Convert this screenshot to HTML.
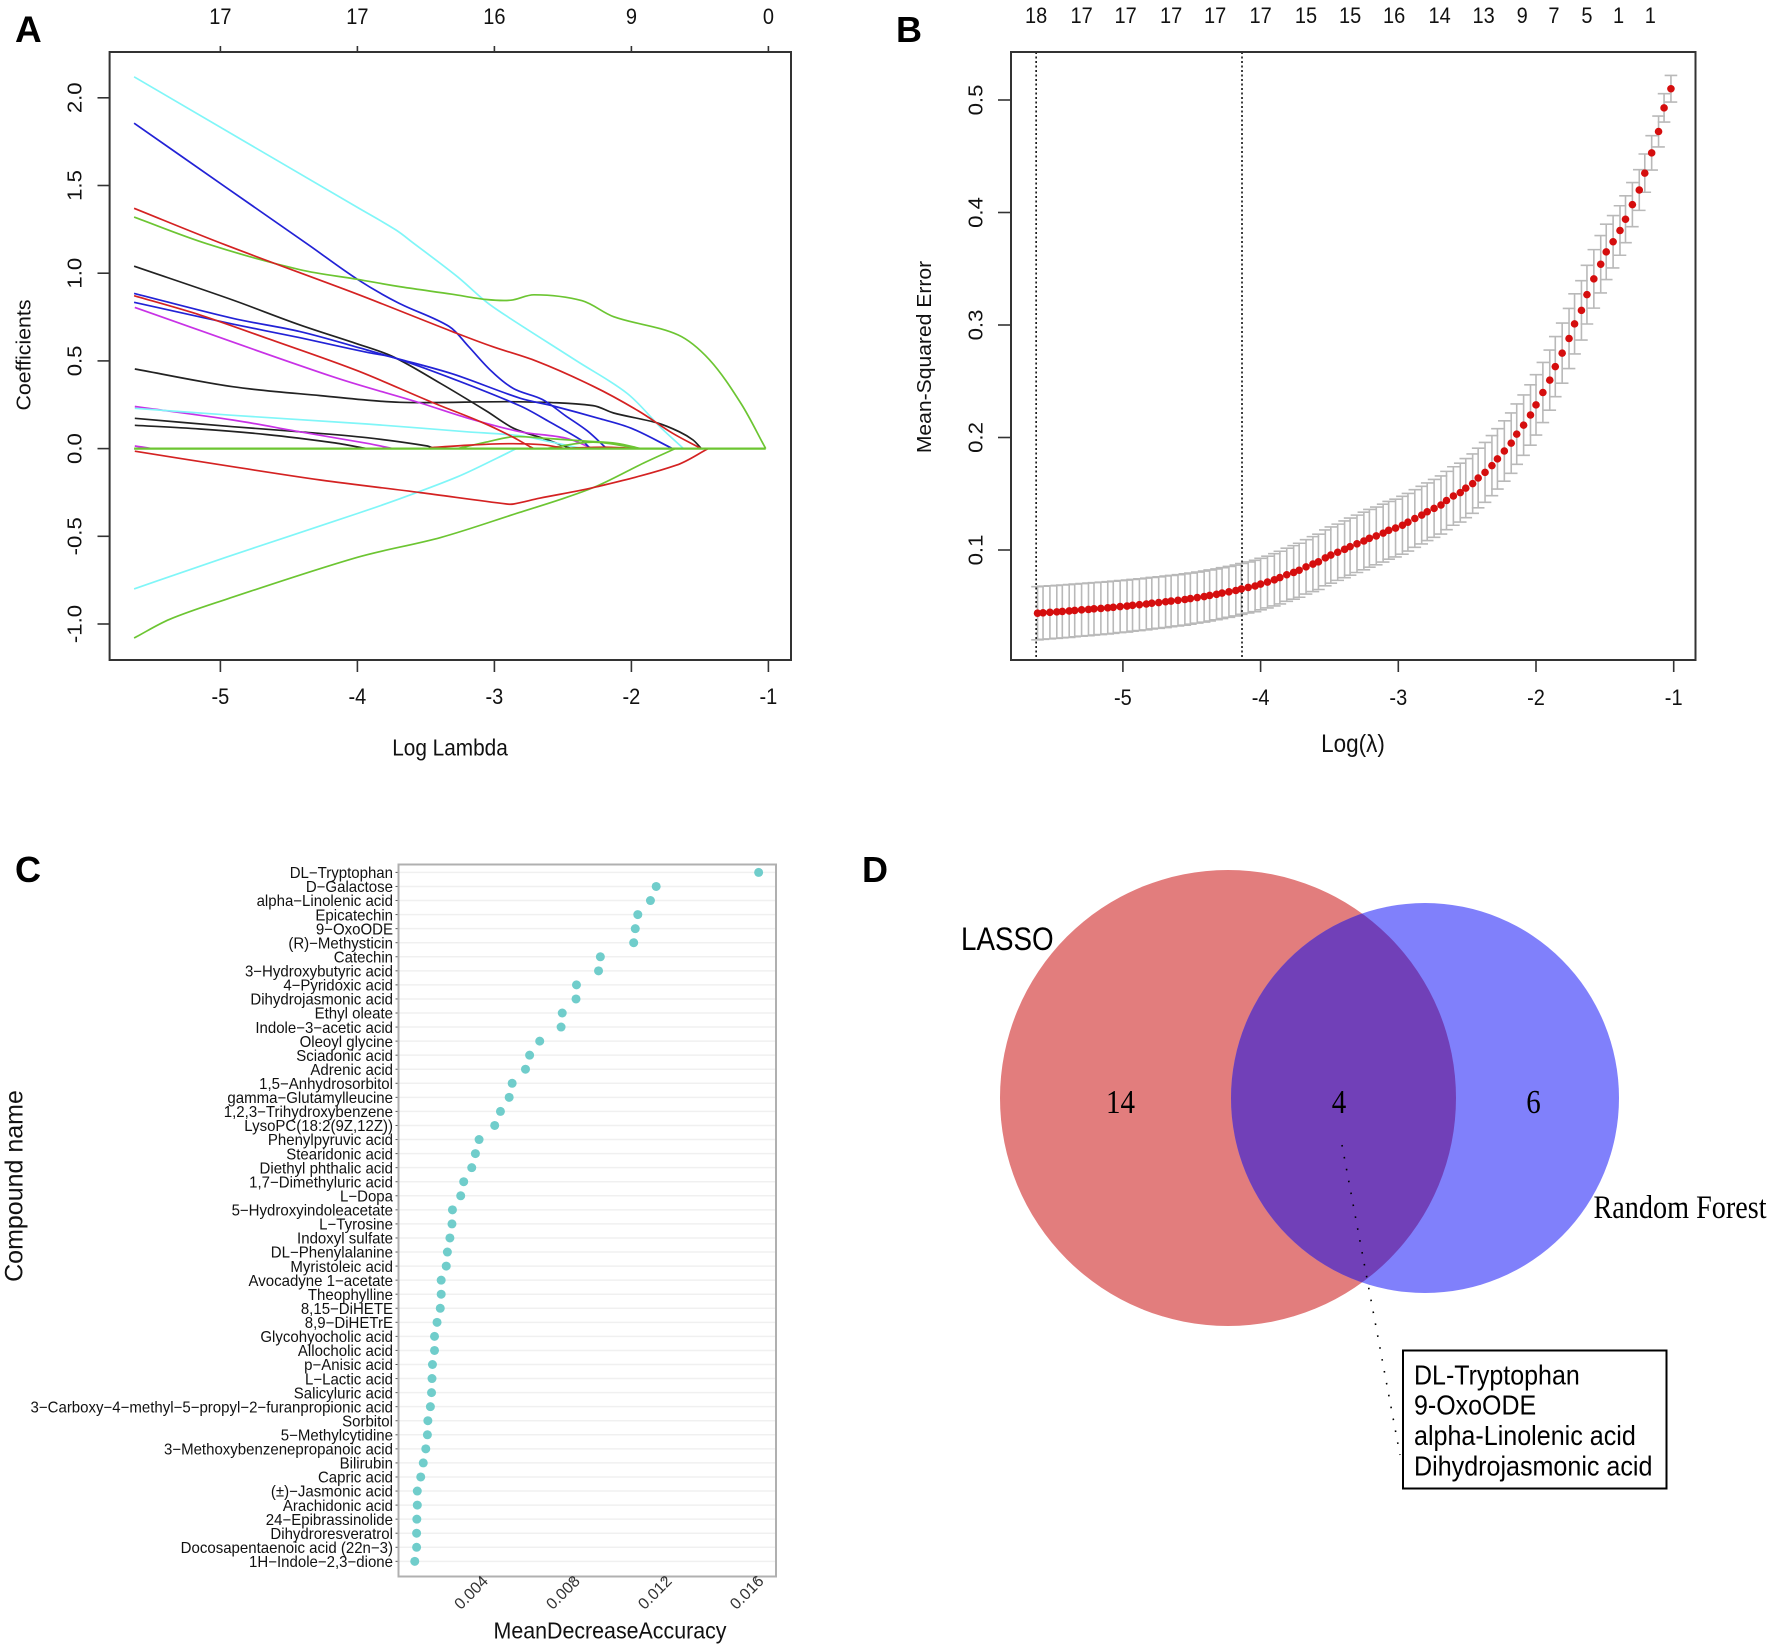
<!DOCTYPE html>
<html lang="en">
<head>
<meta charset="utf-8">
<title>LASSO and Random Forest feature selection panels</title>
<style>
html,body{margin:0;padding:0;background:#fff;}
svg{display:block;font-family:"Liberation Sans",Arial,sans-serif;}
</style>
</head>
<body>
<svg id="figure" xmlns="http://www.w3.org/2000/svg" width="1772" height="1645" viewBox="0 0 1772 1645">
  <rect x="0" y="0" width="1772" height="1645" fill="#ffffff"/>
  <text x="15" y="42" font-size="37" font-weight="bold" fill="#000">A</text>
  <text x="896" y="42" font-size="36" font-weight="bold" fill="#000">B</text>
  <text x="15" y="882" font-size="36" font-weight="bold" fill="#000">C</text>
  <text x="862" y="882" font-size="36" font-weight="bold" fill="#000">D</text>
  <g id="panelA"></g>
  <g id="panelB"></g>
  <g id="panelC"></g>
  <g id="panelD">
    <defs>
      <clipPath id="lassoClip"><circle cx="1228" cy="1098" r="228"/></clipPath>
    </defs>
    <circle cx="1228" cy="1098" r="228" fill="#e27d7d"/>
    <ellipse cx="1425" cy="1098" rx="194" ry="195" fill="#8080fb"/>
    <ellipse cx="1425" cy="1098" rx="194" ry="195" fill="#7140b8" clip-path="url(#lassoClip)"/>
    <text transform="translate(961 950) scale(1 1.15)" font-size="27.8" fill="#000">LASSO</text>
    <text transform="translate(1593.5 1218) scale(1 1.15)" font-size="28.2" font-family="'Liberation Serif',serif" fill="#000">Random Forest</text>
    <text transform="translate(1120.5 1113) scale(1 1.15)" font-size="29" text-anchor="middle" font-family="'Liberation Serif',serif" fill="#000">14</text>
    <text transform="translate(1339 1113) scale(1 1.15)" font-size="29" text-anchor="middle" font-family="'Liberation Serif',serif" fill="#000">4</text>
    <text transform="translate(1533.5 1113) scale(1 1.15)" font-size="29" text-anchor="middle" font-family="'Liberation Serif',serif" fill="#000">6</text>
    <line x1="1342" y1="1145" x2="1400" y2="1455" stroke="#000" stroke-width="1.6" stroke-dasharray="1.6 10.5"/>
    <rect x="1403" y="1350.5" width="263.5" height="138" fill="#ffffff" stroke="#000" stroke-width="2"/>
    <text transform="translate(1414 1384.5) scale(1 1.1)" font-size="25" fill="#000">DL-Tryptophan</text>
    <text transform="translate(1414 1414.5) scale(1 1.1)" font-size="25" fill="#000">9-OxoODE</text>
    <text transform="translate(1414 1445) scale(1 1.1)" font-size="25.1" fill="#000">alpha-Linolenic acid</text>
    <text transform="translate(1414 1475.5) scale(1 1.1)" font-size="25.1" fill="#000">Dihydrojasmonic acid</text>
  </g>
</svg>
<script>
/* ---------- Panel A data: [log lambda, coefficient] ---------- */
const aBottomTicks = [-5,-4,-3,-2,-1];
const aLeftTicks = [-1,-0.5,0,0.5,1,1.5,2];
const aTopLabels = ["17","17","16","9","0"];
const cyanTop = [[-5.63,2.12],[-4,1.375],[-3.72,1.247],[-3.6,1.177],[-3.27,0.98],[-3.06,0.837],[-2.88,0.74],[-2.4,0.5],[-2.03,0.314],[-1.78,0.116],[-1.62,0]];
const blueTop = [[-5.63,1.855],[-4.96,1.49],[-4.36,1.163],[-4,0.965],[-3.7,0.83],[-3.33,0.696],[-3.19,0.583],[-3.02,0.44],[-2.86,0.342],[-2.65,0.28],[-2.48,0.187],[-2.32,0.1],[-2.18,0]];
const redTop = [[-5.63,1.37],[-4.96,1.16],[-4,0.88],[-3.31,0.668],[-3.02,0.583],[-2.69,0.498],[-2.28,0.356],[-1.95,0.215],[-1.7,0.088],[-1.49,0]];
const greenTop = [[-5.63,1.32],[-5.1,1.168],[-4.42,1.02],[-4,0.965],[-3.68,0.922],[-3.31,0.88],[-3.06,0.85],[-2.88,0.846],[-2.71,0.877],[-2.36,0.843],[-2.13,0.752],[-1.66,0.648],[-1.43,0.506],[-1.2,0.257],[-1.02,0]];
const blackUpper = [[-5.63,1.04],[-4.91,0.847],[-4.42,0.705],[-4,0.597],[-3.74,0.524],[-3.39,0.37],[-3.06,0.215],[-2.86,0.116],[-2.65,0.06],[-2.44,0]];
const blueMidA = [[-5.63,0.885],[-4.91,0.743],[-4.42,0.667],[-3.93,0.562],[-3.74,0.52],[-3.31,0.427],[-2.81,0.287],[-2.57,0.243],[-2.24,0.173],[-2,0.116],[-1.7,0]];
const blueMidB = [[-5.63,0.834],[-4.91,0.71],[-4.42,0.632],[-3.93,0.549],[-3.74,0.52],[-3.31,0.4],[-2.81,0.243],[-2.61,0.158],[-2.36,0.045],[-2.3,0]];
const redMid = [[-5.63,0.872],[-5.15,0.762],[-4.66,0.629],[-4,0.444],[-3.45,0.262],[-3.1,0.153],[-2.87,0.068],[-2.74,0.011],[-2.71,0]];
const magentaUpper = [[-5.625,0.805],[-4.18,0.41],[-3.54,0.26],[-3.2,0.175],[-2.81,0.096],[-2.48,0.06],[-2.28,0]];
const blackFlat = [[-5.625,0.454],[-4.91,0.353],[-4.27,0.302],[-3.69,0.264],[-2.81,0.267],[-2.28,0.245],[-2.13,0.203],[-1.81,0.146],[-1.65,0.096],[-1.55,0.049],[-1.49,0]];
const cyanFlat = [[-5.625,0.23],[-4.91,0.19],[-3.93,0.14],[-3.2,0.096],[-2.81,0.073],[-2.6,0.04],[-2.36,0]];
const magentaLow = [[-5.625,0.24],[-4.91,0.163],[-4.42,0.096],[-3.93,0.03],[-3.74,0]];
const blackLowA = [[-5.625,0.173],[-4.91,0.125],[-4.42,0.096],[-3.93,0.062],[-3.49,0.015],[-3.44,0]];
const blackLowB = [[-5.625,0.133],[-5.15,0.112],[-4.66,0.08],[-4.18,0.034],[-3.93,0]];
const magentaTiny = [[-5.625,0.015],[-5.5,0]];
const redNegative = [[-5.625,-0.015],[-4.91,-0.103],[-4.27,-0.179],[-3.54,-0.251],[-2.91,-0.316],[-2.86,-0.316],[-2.67,-0.283],[-2.25,-0.217],[-1.67,-0.094],[-1.44,0]];
const cyanNegative = [[-5.63,-0.8],[-4.96,-0.62],[-4,-0.37],[-3.72,-0.294],[-3.27,-0.161],[-2.98,-0.054],[-2.84,0]];
const greenNegative = [[-5.63,-1.08],[-5.37,-0.973],[-4.96,-0.86],[-4,-0.62],[-3.39,-0.506],[-2.82,-0.365],[-2.48,-0.28],[-2.24,-0.21],[-1.91,-0.082],[-1.68,0]];
const greenSmallA = [[-3.27,0],[-3.06,0.037],[-2.86,0.068],[-2.65,0.06],[-2.32,0.042],[-2.11,0.03],[-1.93,0]];
const greenSmallB = [[-2.62,0],[-2.28,0.037],[-1.94,0]];
const redSmallA = [[-3.47,0.005],[-3.18,0.02],[-2.9,0.028],[-2.65,0.022],[-2.48,0]];
const redSmallB = [[-2.55,0],[-2.2,0.008],[-1.95,0]];
const zeroLine = [[-5.63,0],[-1.02,0]];

/* ---------- Panel B data ---------- */
const bBottomTicks = [-5,-4,-3,-2,-1];
const bLeftTicks = [0.1,0.2,0.3,0.4,0.5];
const bTopLabels = ["18","17","17","17","17","17","15","15","16","14","13","9","7","5","1","1"];
const bTopPositions = [-5.63,-5.30,-4.98,-4.65,-4.33,-4.0,-3.67,-3.35,-3.03,-2.70,-2.38,-2.10,-1.87,-1.63,-1.40,-1.17];
const bReferenceLines = [-5.63,-4.135];
const logLambda = [-5.62,-5.58,-5.53,-5.48,-5.44,-5.39,-5.35,-5.30,-5.25,-5.21,
-5.16,-5.11,-5.07,-5.02,-4.97,-4.93,-4.88,-4.83,-4.79,-4.74,
-4.69,-4.65,-4.60,-4.55,-4.51,-4.46,-4.41,-4.37,-4.32,-4.28,
-4.23,-4.18,-4.14,-4.09,-4.04,-4.00,-3.95,-3.90,-3.86,-3.81,
-3.76,-3.72,-3.67,-3.62,-3.58,-3.53,-3.49,-3.44,-3.39,-3.35,
-3.30,-3.25,-3.21,-3.16,-3.11,-3.07,-3.02,-2.97,-2.93,-2.88,
-2.83,-2.79,-2.74,-2.69,-2.65,-2.60,-2.55,-2.51,-2.46,-2.42,
-2.37,-2.32,-2.28,-2.23,-2.18,-2.14,-2.09,-2.04,-2.00,-1.95,
-1.90,-1.86,-1.81,-1.76,-1.72,-1.67,-1.63,-1.58,-1.53,-1.49,
-1.44,-1.39,-1.35,-1.30,-1.25,-1.21,-1.16,-1.11,-1.07,-1.02];
const meanSquaredError = [.0438,.0442,.0446,.0450,.0454,.0458,.0463,.0468,.0472,.0477,
.0481,.0486,.0491,.0497,.0502,.0508,.0514,.052,.0527,.0533,
.054,.0546,.0553,.056,.0568,.0577,.0586,.0596,.0606,.0617,
.0628,.064,.0654,.0667,.068,.0697,.0715,.0735,.0755,.078,
.0801,.082,.085,.0875,.0895,.093,.0955,.098,.1006,.103,
.1055,.108,.1104,.1125,.115,.1175,.1195,.122,.1247,.128,
.131,.134,.137,.140,.144,.148,.151,.155,.159,.164,
.169,.175,.181,.188,.195,.203,.211,.220,.229,.240,
.251,.263,.275,.288,.301,.313,.327,.341,.354,.365,
.374,.384,.394,.407,.420,.435,.453,.472,.493,.510];
const standardError = [.0236,.0236,.0236,.0235,.0235,.0235,.0234,.0234,.0234,.0233,
.0233,.0232,.0232,.0231,.0231,.023,.023,.023,.0229,.0229,
.0229,.0228,.0228,.0228,.0227,.0227,.0227,.0227,.0226,.0226,
.0226,.0226,.0226,.0227,.0228,.0229,.023,.0232,.0234,.0236,
.0238,.024,.0242,.0244,.0246,.0248,.025,.025,.0252,.0254,
.0255,.0256,.0257,.0257,.0257,.0257,.0257,.0257,.0256,.0256,
.0256,.0256,.0257,.0258,.0259,.026,.0262,.0263,.0264,.0265,
.0266,.0267,.0268,.0268,.0268,.0268,.0268,.0268,.0268,.0267,
.0267,.0267,.0267,.0267,.0267,.0264,.0261,.026,.0255,.0246,
.0233,.022,.0208,.0196,.0181,.017,.0153,.0137,.0126,.0118];

/* ---------- Panel C data ---------- */
const compoundNames = ["DL\u2212Tryptophan","D\u2212Galactose","alpha\u2212Linolenic acid","Epicatechin","9\u2212OxoODE","(R)\u2212Methysticin","Catechin","3\u2212Hydroxybutyric acid","4\u2212Pyridoxic acid","Dihydrojasmonic acid","Ethyl oleate","Indole\u22123\u2212acetic acid","Oleoyl glycine","Sciadonic acid","Adrenic acid","1,5\u2212Anhydrosorbitol","gamma\u2212Glutamylleucine","1,2,3\u2212Trihydroxybenzene","LysoPC(18:2(9Z,12Z))","Phenylpyruvic acid","Stearidonic acid","Diethyl phthalic acid","1,7\u2212Dimethyluric acid","L\u2212Dopa","5\u2212Hydroxyindoleacetate","L\u2212Tyrosine","Indoxyl sulfate","DL\u2212Phenylalanine","Myristoleic acid","Avocadyne 1\u2212acetate","Theophylline","8,15\u2212DiHETE","8,9\u2212DiHETrE","Glycohyocholic acid","Allocholic acid","p\u2212Anisic acid","L\u2212Lactic acid","Salicyluric acid","3\u2212Carboxy\u22124\u2212methyl\u22125\u2212propyl\u22122\u2212furanpropionic acid","Sorbitol","5\u2212Methylcytidine","3\u2212Methoxybenzenepropanoic acid","Bilirubin","Capric acid","(\u00b1)\u2212Jasmonic acid","Arachidonic acid","24\u2212Epibrassinolide","Dihydroresveratrol","Docosapentaenoic acid (22n\u22123)","1H\u2212Indole\u22122,3\u2212dione"];
const meanDecreaseAccuracy = [.01613,.01167,.01142,.01087,.01076,.01069,.00924,.00916,.0082,.00818,.00758,.00753,.0066,.00616,.00598,.0054,.00527,.00489,.00464,.00396,.0038,.00364,.00329,.00316,.0028,.00278,.00269,.00258,.00253,.00231,.00231,.00227,.00213,.00202,.00202,.00193,.00191,.00189,.00184,.00173,.00171,.00164,.00153,.00142,.00127,.00127,.00125,.00124,.00124,.00116];
const cTicks = [0.004,0.008,0.012,0.016];

/* ---------- axis functions ---------- */
const SVGNS = "http://www.w3.org/2000/svg";
const xA = v => 220.4 + (v + 5) * 137;
const yA = v => 448.6 - v * 175.4;
const xB = v => 1673.7 + (v + 1) * 137.7;
const yB = v => 550 - (v - 0.1) * 1125;
const xC = v => 480 + (v - 0.004) * 22970;
const yC = i => 872.4 + i * 14.06;

function shape(parent, tag, attrs) {
  const el = document.createElementNS(SVGNS, tag);
  for (const k in attrs) el.setAttribute(k, attrs[k]);
  parent.appendChild(el);
  return el;
}
function label(parent, str, x, y, opts) {
  const o = opts || {};
  const el = document.createElementNS(SVGNS, "text");
  el.setAttribute("font-size", o.size || 20);
  el.setAttribute("text-anchor", o.anchor || "middle");
  el.setAttribute("fill", o.fill || "#111");
  el.setAttribute("dy", "0.36em");
  el.setAttribute("transform", "translate(" + x + " " + y + ") scale(" + (o.sx || 1) + " " + (o.sy || 1) + ") rotate(" + (o.rot || 0) + ")");
  el.textContent = str;
  parent.appendChild(el);
  return el;
}
function smoothPath(values) {
  const p = values.map(d => [xA(d[0]), yA(d[1])]);
  let out = "M" + p[0][0].toFixed(1) + " " + p[0][1].toFixed(1);
  const unit = (a, b) => {
    const dx = b[0] - a[0], dy = b[1] - a[1], n = Math.hypot(dx, dy) || 1;
    return [dx / n, dy / n];
  };
  for (let i = 0; i < p.length - 1; i++) {
    const t1 = unit(p[Math.max(i - 1, 0)], p[i + 1]);
    const t2 = unit(p[i], p[Math.min(i + 2, p.length - 1)]);
    const len = Math.hypot(p[i + 1][0] - p[i][0], p[i + 1][1] - p[i][1]) / 3;
    out += "C" + (p[i][0] + t1[0] * len).toFixed(1) + " " + (p[i][1] + t1[1] * len).toFixed(1) + " " +
      (p[i + 1][0] - t2[0] * len).toFixed(1) + " " + (p[i + 1][1] - t2[1] * len).toFixed(1) + " " +
      p[i + 1][0].toFixed(1) + " " + p[i + 1][1].toFixed(1);
  }
  return out;
}
const tickName = v => String(v).replace("-", "minus-").replace(".", "-");
const AXIS = "#333333";

/* ---------- Panel A ---------- */
const panelA = document.getElementById("panelA");
const pathSeries = [
  {name:"coef-black-upper", values:blackUpper, color:"#222222"},
  {name:"coef-black-flat", values:blackFlat, color:"#222222"},
  {name:"coef-black-low-a", values:blackLowA, color:"#222222"},
  {name:"coef-black-low-b", values:blackLowB, color:"#222222"},
  {name:"coef-magenta-upper", values:magentaUpper, color:"#c832e6"},
  {name:"coef-magenta-low", values:magentaLow, color:"#c832e6"},
  {name:"coef-magenta-tiny", values:magentaTiny, color:"#c832e6"},
  {name:"coef-cyan-top", values:cyanTop, color:"#80f6f8"},
  {name:"coef-cyan-flat", values:cyanFlat, color:"#80f6f8"},
  {name:"coef-cyan-negative", values:cyanNegative, color:"#80f6f8"},
  {name:"coef-blue-top", values:blueTop, color:"#2222d6"},
  {name:"coef-blue-mid-a", values:blueMidA, color:"#2222d6"},
  {name:"coef-blue-mid-b", values:blueMidB, color:"#2222d6"},
  {name:"coef-green-small-a", values:greenSmallA, color:"#6cc532"},
  {name:"coef-green-small-b", values:greenSmallB, color:"#6cc532"},
  {name:"coef-green-top", values:greenTop, color:"#6cc532"},
  {name:"coef-green-negative", values:greenNegative, color:"#6cc532"},
  {name:"coef-red-top", values:redTop, color:"#d42222"},
  {name:"coef-red-mid", values:redMid, color:"#d42222"},
  {name:"coef-red-negative", values:redNegative, color:"#d42222"},
  {name:"coef-red-small-a", values:redSmallA, color:"#d42222"},
  {name:"coef-red-small-b", values:redSmallB, color:"#d42222"},
  {name:"coef-zero-line", values:zeroLine, color:"#6cc532"}
];
pathSeries.forEach(function (s) {
  const line = shape(panelA, "path", {
    d: smoothPath(s.values),
    fill: "none", stroke: s.color, "stroke-width": s.values === zeroLine ? 2.2 : 1.7, "stroke-linejoin": "round"
  });
  
  
});
const frameA = shape(panelA, "rect", {x:109.6, y:52, width:681.4, height:608, fill:"none", stroke:AXIS, "stroke-width":2});


aBottomTicks.forEach(function (v, i) {
  const tb = shape(panelA, "line", {x1:xA(v), x2:xA(v), y1:660, y2:672, stroke:AXIS, "stroke-width":1.6});
  
  
  const tt = shape(panelA, "line", {x1:xA(v), x2:xA(v), y1:52, y2:46, stroke:AXIS, "stroke-width":1.6});
  
  
  const lb = label(panelA, String(v), xA(v), 696, {size:20, sy:1.13});
  
  
  const lt = label(panelA, aTopLabels[i], xA(v), 16, {size:20, sy:1.13});
  
  
});
aLeftTicks.forEach(function (v) {
  const t = shape(panelA, "line", {x1:97.5, x2:109.6, y1:yA(v), y2:yA(v), stroke:AXIS, "stroke-width":1.6});
  
  
  const l = label(panelA, v.toFixed(1), 74, yA(v), {size:20.5, rot:-90, sy:1.08});
  
  
});
const aXTitle = label(panelA, "Log Lambda", 450, 747, {size:20.8, sy:1.12});


const aYTitle = label(panelA, "Coefficients", 23, 355, {size:20.5, rot:-90, sy:1.04});



/* ---------- Panel B ---------- */
const panelB = document.getElementById("panelB");
logLambda.forEach(function (v, i) {
  const hi = meanSquaredError[i] + standardError[i];
  const lo = meanSquaredError[i] - standardError[i];
  const bar = shape(panelB, "path", {
    d: "M" + xB(v) + " " + yB(hi) + "V" + yB(lo) +
       "M" + (xB(v) - 6.3) + " " + yB(hi) + "H" + (xB(v) + 6.3) +
       "M" + (xB(v) - 6.3) + " " + yB(lo) + "H" + (xB(v) + 6.3),
    fill: "none", stroke: "#b9b9b9", "stroke-width": 1.6
  });
  
  
});
bReferenceLines.forEach(function (v, i) {
  const ref = shape(panelB, "line", {x1:xB(v), x2:xB(v), y1:52, y2:660, stroke:"#111", "stroke-width":1.6, "stroke-dasharray":"2 2.5"});
  
  
});
logLambda.forEach(function (v, i) {
  const dot = shape(panelB, "circle", {cx:xB(v), cy:yB(meanSquaredError[i]), r:3.8, fill:"#d50e0e"});
  
  
});
const frameB = shape(panelB, "rect", {x:1011, y:52, width:684.5, height:608, fill:"none", stroke:AXIS, "stroke-width":2});


bBottomTicks.forEach(function (v) {
  const t = shape(panelB, "line", {x1:xB(v), x2:xB(v), y1:660, y2:672, stroke:AXIS, "stroke-width":1.6});
  
  
  const l = label(panelB, String(v), xB(v), 697, {size:20, sy:1.13});
  
  
});
bLeftTicks.forEach(function (v) {
  const t = shape(panelB, "line", {x1:998, x2:1011, y1:yB(v), y2:yB(v), stroke:AXIS, "stroke-width":1.6});
  
  
  const l = label(panelB, v.toFixed(1), 975, yB(v), {size:20.5, rot:-90, sy:1.08});
  
  
});
bTopLabels.forEach(function (s, i) {
  const l = label(panelB, s, xB(bTopPositions[i]), 15, {size:20, sy:1.13});
  
  
});
const bXTitle = label(panelB, "Log(\u03bb)", 1353, 743, {size:22.5, sy:1.1});


const bYTitle = label(panelB, "Mean-Squared Error", 923.5, 357, {size:20.5, rot:-90, sy:1.03});



/* ---------- Panel C ---------- */
const panelC = document.getElementById("panelC");
compoundNames.forEach(function (name, i) {
  const g = shape(panelC, "line", {x1:398, x2:776, y1:yC(i), y2:yC(i), stroke:"#f0f0f0", "stroke-width":1.5});
  
  
  const t = shape(panelC, "line", {x1:395.5, x2:398.5, y1:yC(i), y2:yC(i), stroke:"#555", "stroke-width":1});
  
  
  const l = label(panelC, name, 393, yC(i), {size:15.8, sx:0.95, anchor:"end", fill:"#111"});
  
  
});
const frameC = shape(panelC, "rect", {x:398.5, y:864.5, width:377.5, height:712, fill:"none", stroke:"#b0b0b0", "stroke-width":2});


meanDecreaseAccuracy.forEach(function (v, i) {
  const dot = shape(panelC, "circle", {cx:xC(v), cy:yC(i), r:4.5, fill:"#70cdcb"});
  
  
});
cTicks.forEach(function (v) {
  const t = shape(panelC, "line", {x1:xC(v), x2:xC(v), y1:1577, y2:1581, stroke:"#555", "stroke-width":1});
  
  
  const l = label(panelC, v.toFixed(3), xC(v) + 5, 1578, {size:16, anchor:"end", rot:-45, fill:"#333"});
  
  
});
const cXTitle = label(panelC, "MeanDecreaseAccuracy", 610, 1630, {size:21.4, sy:1.1});


const cYTitle = label(panelC, "Compound name", 13.5, 1186, {size:25, rot:-90});


</script>
</body>
</html>
